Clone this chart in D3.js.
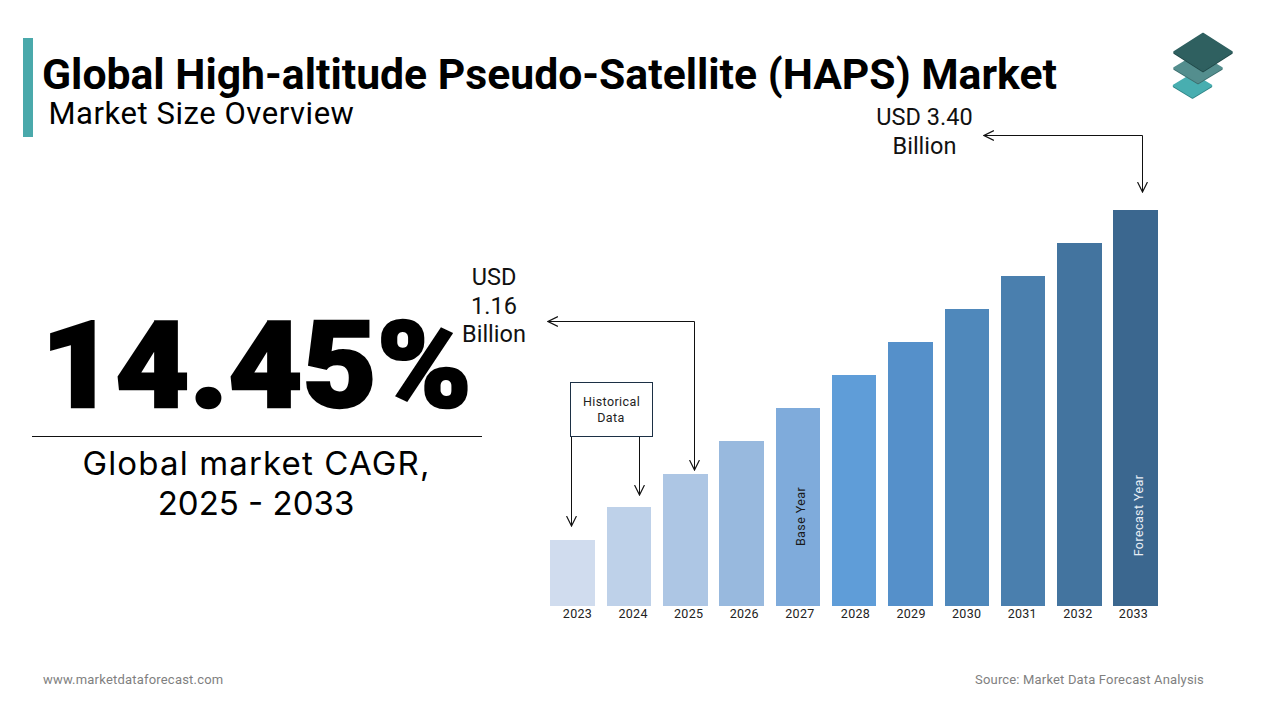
<!DOCTYPE html>
<html><head><meta charset="utf-8">
<script src="https://cdn.jsdelivr.net/npm/d3@7"></script>
<style>
html,body{margin:0;padding:0;background:#fff}
svg{display:block}
text{font-family:Roboto,sans-serif}
</style></head><body>
<svg id="c" width="1280" height="720"></svg>
<script>
const years=["2023","2024","2025","2026","2027","2028","2029","2030","2031","2032","2033"];
const marketSize=[0.57,0.85,1.13,1.42,1.70,1.98,2.27,2.55,2.83,3.12,3.40];
const barColors=["#d0dcee","#bed1e9","#adc6e4","#98b9de","#7fabdb","#5f9dd8","#5590ca","#4f88bb","#4a7fae","#43749f","#3b678f"];
const titleText="Global High-altitude Pseudo-Satellite (HAPS) Market";
const subtitleText="Market Size Overview";

const svg=d3.select("#c");
const x=d3.scaleBand().domain(years).range([550.4,1158]).paddingInner(0.208).paddingOuter(0);
const y=d3.scaleLinear().domain([0,3.40]).range([606,210]);
const xLabels=d3.scalePoint().domain(years).range([577,1133]);
const color=d3.scaleOrdinal().domain(years).range(barColors);

const defs=svg.append("defs");
defs.append("marker").attr("id","arr").attr("viewBox","0 0 10 10").attr("refX",9.5).attr("refY",5)
  .attr("markerWidth",11).attr("markerHeight",11).attr("markerUnits","userSpaceOnUse").attr("orient","auto")
  .append("path").attr("d","M0.5,0.5L9.5,5L0.5,9.5").attr("fill","none").attr("stroke","#111").attr("stroke-width",1.1);

// header
svg.append("rect").attr("x",23).attr("y",38).attr("width",10).attr("height",99).attr("fill","#4aa9ab");
svg.append("text").attr("x",42).attr("y",89).attr("font-size",42.7).attr("font-weight",700).attr("fill","#000").text(titleText);
svg.append("text").attr("x",48.5).attr("y",124).attr("font-size",31).attr("fill","#000").attr("letter-spacing",0.55).text(subtitleText);

// logo
const logo=svg.append("g");
[[1192.5,85.5,19,11.5,"#48aeb0","#2f8486"],[1198,68,24,14.5,"#548e8e","#3b6e6e"],[1203,52,29,18.5,"#2f6060","#204848"]].forEach(([cx,cy,w,h,f,s])=>{
  logo.append("path").attr("d",`M${cx-w},${cy+1}L${cx},${cy+h+1}L${cx+w},${cy+1}Z`).attr("fill",s).attr("stroke",s).attr("stroke-width",1.5).attr("stroke-linejoin","round");
  logo.append("path").attr("d",`M${cx-w},${cy}L${cx},${cy-h}L${cx+w},${cy}L${cx},${cy+h}Z`).attr("fill",f).attr("stroke",f).attr("stroke-width",1.5).attr("stroke-linejoin","round");
});

// CAGR
svg.append("text").attr("x",41).attr("y",407).attr("font-size",120).attr("font-weight",900).attr("fill","#000").attr("stroke","#000").attr("stroke-width",2.5).attr("textLength",431).attr("lengthAdjust","spacingAndGlyphs").text("14.45%");
svg.append("line").attr("x1",32).attr("x2",482).attr("y1",436.5).attr("y2",436.5).attr("stroke","#111").attr("stroke-width",1);
const cagr=svg.append("text").attr("text-anchor","middle").attr("font-size",33).attr("fill","#000").style("font-family","Inter");
cagr.append("tspan").attr("x",256.5).attr("y",475).attr("letter-spacing",1.15).text("Global market CAGR,");
cagr.append("tspan").attr("x",256).attr("y",515).attr("letter-spacing",0).text("2025 - 2033");

// bars
svg.append("g").attr("shape-rendering","crispEdges").selectAll("rect").data(years.map((d,i)=>({year:d,v:marketSize[i]}))).join("rect")
  .attr("x",d=>x(d.year)).attr("width",x.bandwidth()).attr("y",d=>y(d.v)).attr("height",d=>y(0)-y(d.v)).attr("fill",d=>color(d.year));

// axis
const ax=svg.append("g").attr("transform","translate(0,606)").call(d3.axisBottom(xLabels).tickSize(0).tickPadding(3));
ax.select(".domain").remove();
ax.selectAll("text").attr("font-size",12.5).attr("fill","#222").style("font-family","Roboto").attr("letter-spacing",0.3);

// inside labels
const rot=(year,txt,fill,cy)=>svg.append("text").attr("text-anchor","middle").attr("font-size",12.5).attr("fill",fill).attr("letter-spacing",0.4)
  .attr("transform",`translate(${x(year)+x.bandwidth()/2+7.5},${cy}) rotate(-90)`).text(txt);
rot("2027","Base Year","#1a1a1a",516.5);
rot("2033","Forecast Year","#e8eef5",515.5);

// annotation: historical
svg.append("rect").attr("x",570.5).attr("y",382.5).attr("width",82).attr("height",54).attr("fill","#fff").attr("stroke","#1c3045").attr("stroke-width",1);
const hist=svg.append("text").attr("text-anchor","middle").attr("font-size",12.5).attr("fill","#222").attr("letter-spacing",0.4);
hist.append("tspan").attr("x",611.5).attr("y",406).text("Historical");
hist.append("tspan").attr("x",611).attr("y",422).text("Data");

const line=(pts)=>svg.append("path").attr("d",d3.line()(pts)).attr("fill","none").attr("stroke","#111").attr("stroke-width",1).attr("marker-end","url(#arr)");
line([[571.5,437],[571.5,526]]);
line([[639.5,437],[639.5,495]]);
line([[694.5,321.5],[694.5,470]]);
line([[694.5,321.5],[548,321.5]]);
line([[1142.5,135.5],[1142.5,192]]);
line([[1142.5,135.5],[984,135.5]]);

// value labels
const lab=(cx,lines,ys)=>{const t=svg.append("text").attr("text-anchor","middle").attr("font-size",23.5).attr("fill","#111");
  lines.forEach((l,i)=>t.append("tspan").attr("x",cx).attr("y",ys[i]).text(l));};
lab(924.5,["USD 3.40","Billion"],[125,154]);
lab(494,["USD","1.16","Billion"],[285,314,342]);

// footer
svg.append("text").attr("x",43).attr("y",684).attr("font-size",13).attr("fill","#7f7f7f").attr("letter-spacing",0.2).text("www.marketdataforecast.com");
svg.append("text").attr("x",1204).attr("y",684).attr("text-anchor","end").attr("font-size",13).attr("fill","#7f7f7f").attr("letter-spacing",0.165).text("Source: Market Data Forecast Analysis");
</script>
</body></html>
